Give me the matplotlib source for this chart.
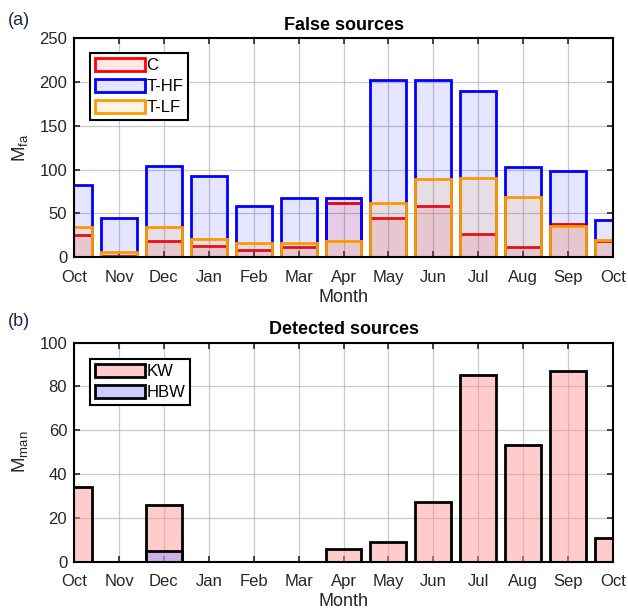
import numpy as np
import matplotlib.pyplot as plt

plt.rcParams['font.family'] = ['Liberation Sans', 'DejaVu Sans']

months = ['Oct', 'Nov', 'Dec', 'Jan', 'Feb', 'Mar', 'Apr', 'May', 'Jun',
          'Jul', 'Aug', 'Sep', 'Oct']

# false sources
c_fa = [25, 2, 18, 13, 8, 12, 62, 45, 58, 27, 12, 38, 18]
thf_fa = [82, 45, 104, 93, 58, 68, 68, 202, 202, 190, 103, 98, 43]
tlf_fa = [34, 6, 35, 21, 16, 16, 18, 62, 89, 90, 69, 36, 20]

# detected sources
kw = [34, 0, 26, 0, 0, 0, 6, 9, 27.5, 85, 53.5, 87, 11]
hbw = [0, 0, 5, 0, 0, 0, 0, 0, 0, 0, 0, 0, 0]

x = np.arange(len(months))

fig = plt.figure(figsize=(6.28, 6.14), dpi=100)
ax1 = fig.add_axes([0.118, 0.581, 0.858, 0.357])
ax2 = fig.add_axes([0.118, 0.085, 0.858, 0.357])


def style(ax, ymax, step):
    ax.set_xlim(0, 12)
    ax.set_ylim(0, ymax)
    ax.set_xticks(x)
    ax.set_xticklabels(months)
    ax.set_yticks(np.arange(0, ymax + 1, step))
    ax.grid(True, color='#a8a8a8', lw=0.9, alpha=0.6)
    ax.set_axisbelow(True)
    ax.tick_params(direction='in', top=True, right=True, length=4,
                   width=1.2, labelsize=12, colors='#262626')
    ax.tick_params(axis='x', pad=9)
    ax.tick_params(axis='y', pad=5)
    for s in ax.spines.values():
        s.set_linewidth(1.5)
    ax.set_xlabel('Month', fontsize=13, color='#262626', labelpad=3)


def legend(ax, anchor):
    leg = ax.legend(loc='upper left', bbox_to_anchor=anchor, fontsize=12,
                    handlelength=3.0, handleheight=0.8, handletextpad=0.1,
                    labelspacing=0.35, borderpad=0.3, borderaxespad=0,
                    fancybox=False, framealpha=1)
    leg.get_frame().set_edgecolor('black')
    leg.get_frame().set_linewidth(1.5)


w = 0.8
ax1.bar(x, c_fa, w, facecolor=(1, 0, 0, 0.1), edgecolor='#ff0000', lw=2, label='C')
ax1.bar(x, thf_fa, w, facecolor=(0, 0, 1, 0.1), edgecolor='#0000ff', lw=2, label='T-HF')
ax1.bar(x, tlf_fa, w, facecolor=(1, 0.6, 0, 0.1), edgecolor='#ff9900', lw=2, label='T-LF')
style(ax1, 250, 50)
ax1.set_ylabel('M$_{\\mathregular{fa}}$', fontsize=13.5, color='#262626', labelpad=6)
ax1.set_title('False sources', fontsize=13, fontweight='bold', pad=6)
legend(ax1, (0.029, 0.932))

ax2.bar(x, kw, w, facecolor=(1, 0.6, 0.6, 0.5), edgecolor='black', lw=2, label='KW')
ax2.bar(x, hbw, w, facecolor=(0.6, 0.6, 1, 0.5), edgecolor='black', lw=2, label='HBW')
style(ax2, 100, 20)
ax2.set_ylabel('M$_{\\mathregular{man}}$', fontsize=13.5, color='#262626', labelpad=6)
ax2.set_title('Detected sources', fontsize=13, fontweight='bold', pad=6)
legend(ax2, (0.029, 0.925))

fig.text(0.012, 0.967, '(a)', fontsize=13, color='#1a2a4a', va='center')
fig.text(0.012, 0.476, '(b)', fontsize=13, color='#1a2a4a', va='center')

fig.savefig('out.png', dpi=100)
